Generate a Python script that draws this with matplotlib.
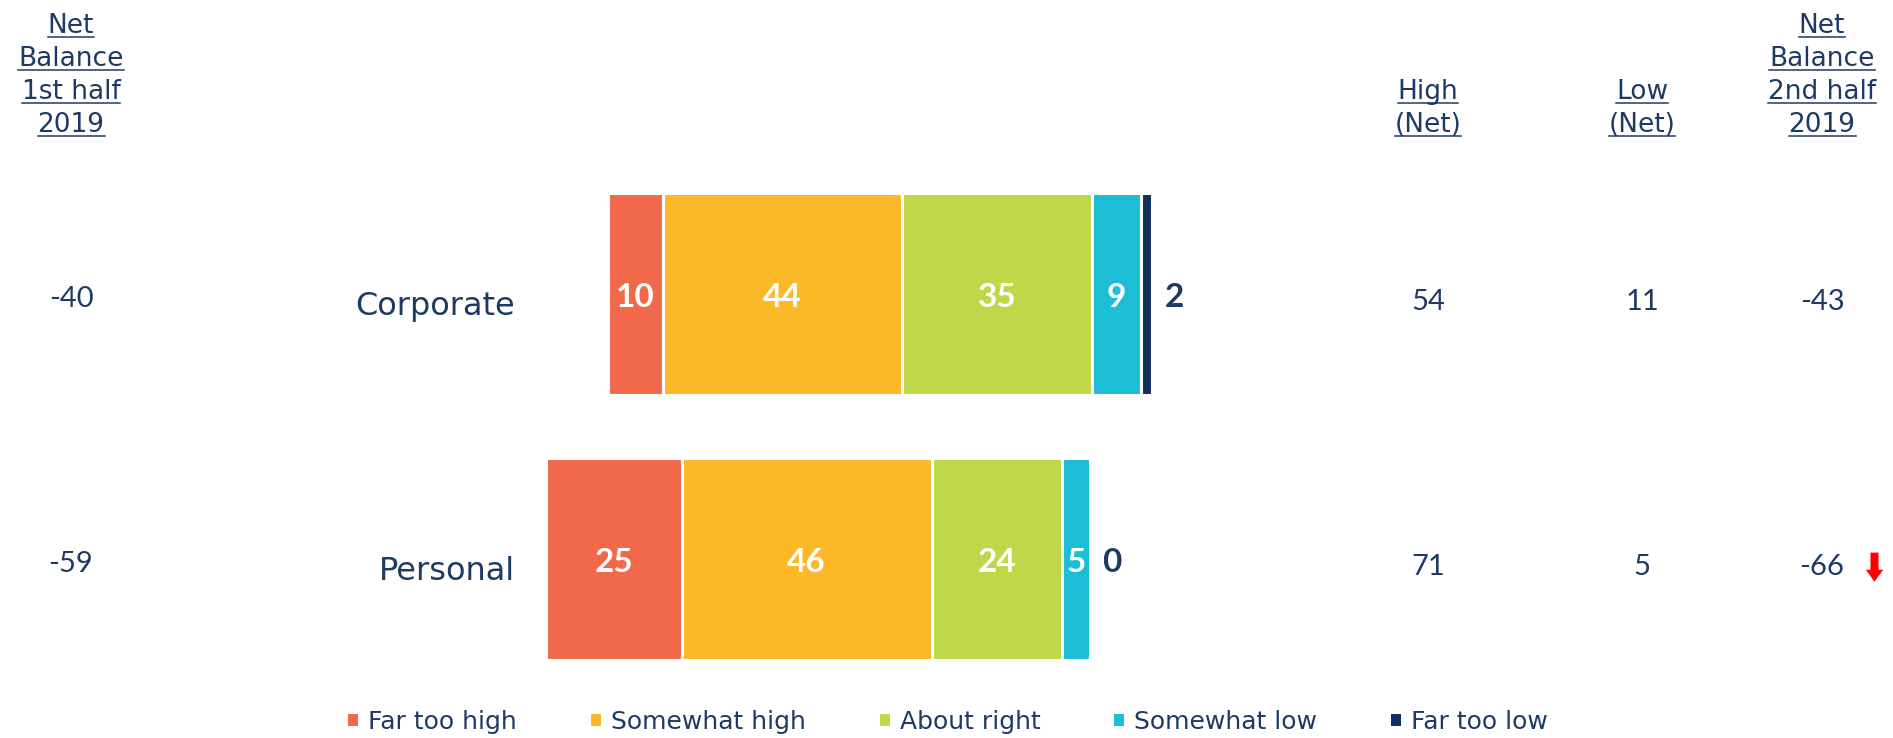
import numpy as np
import matplotlib
matplotlib.use('Agg')
import matplotlib.pyplot as plt
from matplotlib.lines import Line2D
from matplotlib.patches import Patch

# ── Data ──────────────────────────────────────────────────────────────────────
categories    = ['Corporate', 'Personal']
levels        = ['Far too high', 'Somewhat high', 'About right', 'Somewhat low', 'Far too low']
far_too_high  = [10, 25]
somewhat_high = [44, 46]
about_right   = [35, 24]
somewhat_low  = [9, 5]
far_too_low   = [2, 0]
net_1st_half  = [-40, -59]
high_net      = [54, 71]
low_net       = [11, 5]
net_2nd_half  = [-43, -66]
trend         = ['', 'down']

colors = ['#F2684A', '#FBB827', '#BFD849', '#1CBED5', '#12305B']
NAVY = '#1C3A63'

# ── Canvas: one axes over the whole figure, bars centred on "About right" ────
W, H = 1893, 738
fig = plt.figure(figsize=(W / 100, H / 100), dpi=100)
ax = fig.add_axes([0, 0, 1, 1])
ax.set_xlim(-183.3, 164.7)
ax.set_ylim(1.677, -1.108)
ax.axis('off')

rows = np.arange(len(categories))
segments = np.array([far_too_high, somewhat_high, about_right, somewhat_low, far_too_low], dtype=float)
left = -(segments[0] + segments[1] + segments[2] / 2)

for i, (vals, color) in enumerate(zip(segments, colors)):
    ax.barh(rows, vals, left=left, height=0.762, color=color,
            edgecolor='white', linewidth=2.2)
    for r, (v, l) in enumerate(zip(vals, left)):
        if i < len(levels) - 1:
            ax.annotate(f'{v:.0f}', (l + v / 2, r), xytext=(0, -13), textcoords='offset pixels',
                        ha='center', va='baseline', color='white', fontsize=24,
                        fontweight='bold', family='Lato')
        else:
            # last segment is too thin, label sits outside the bar
            ax.annotate(f'{v:.0f}', (l + v, r), xytext=(13, -13), textcoords='offset pixels',
                        ha='left', va='baseline', color=NAVY, fontsize=24,
                        fontweight='bold', family='Lato')
    left = left + vals

# category names to the left of the bars
for r, name in zip(rows, categories):
    ax.annotate(name, (-88.6, r), xytext=(0, -21), textcoords='offset pixels',
                ha='right', va='baseline', color=NAVY, fontsize=23)

# ── Side columns ──────────────────────────────────────────────────────────────
columns = [
    (71 / W, net_1st_half, -13),
    (1428 / W, high_net, -16),
    (1642 / W, low_net, -16),
    (1822 / W, net_2nd_half, -16),
]
for x, vals, dy in columns:
    for r, v in zip(rows, vals):
        ax.annotate(f'{v}', (x, r), xycoords=('figure fraction', 'data'),
                    xytext=(0, dy), textcoords='offset pixels',
                    ha='center', va='baseline', color=NAVY, fontsize=21, family='Lato')

for r, t in zip(rows, trend):
    if t == 'down':
        y0 = ax.transData.transform((0, r))[1]
        ax.annotate('', xy=(1874.5, y0 - 23), xycoords='figure pixels',
                    xytext=(1874.5, y0 + 6), textcoords='figure pixels',
                    arrowprops=dict(arrowstyle='simple,head_width=12.5,head_length=8.5,tail_width=5.8',
                                    mutation_scale=1, color='#FF0000', shrinkA=0, shrinkB=0, lw=0))

# ── Headers (underlined) ──────────────────────────────────────────────────────
headers = [
    (71, ['Net', 'Balance', '1st half', '2019']),
    (1428, ['High', '(Net)']),
    (1642, ['Low', '(Net)']),
    (1822, ['Net', 'Balance', '2nd half', '2019']),
]
baselines = [33, 66, 99, 132]
header_texts = []
for x, lines in headers:
    for line, yb in zip(lines, baselines[-len(lines):]):
        t = fig.text(x / W, 1 - yb / H, line, ha='center', va='baseline',
                     color=NAVY, fontsize=19)
        header_texts.append((t, yb))

# ── Legend ────────────────────────────────────────────────────────────────────
handles = [Patch(facecolor=c, edgecolor='none', label=l) for c, l in zip(colors, levels)]
leg = fig.legend(handles=handles, loc='center', bbox_to_anchor=(948 / W, 1 - 722 / H),
                 ncol=5, frameon=False, fontsize=18, handlelength=0.4, handleheight=0.4,
                 handletextpad=0.4, columnspacing=2.95, borderpad=0, borderaxespad=0)
for txt in leg.get_texts():
    txt.set_color(NAVY)

fig.canvas.draw()
renderer = fig.canvas.get_renderer()
for t, yb in header_texts:
    bb = t.get_window_extent(renderer)
    y = (H - yb - 3.5) / H
    fig.add_artist(Line2D([bb.x0 / W, bb.x1 / W], [y, y], color=NAVY, lw=1.1))

fig.savefig('out.png', dpi=100, facecolor='white')
